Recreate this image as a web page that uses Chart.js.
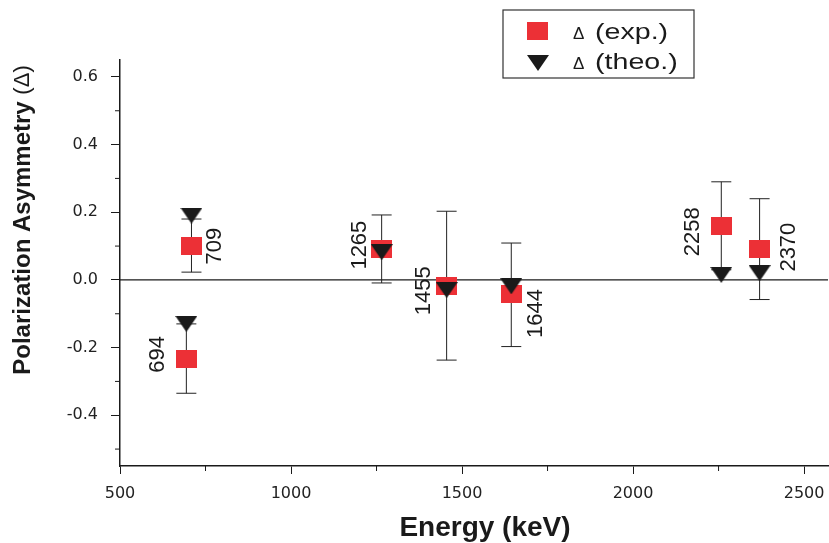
<!DOCTYPE html>
<html>
<head>
<meta charset="utf-8">
<script src="https://cdn.jsdelivr.net/npm/chart.js@4.4.1/dist/chart.umd.min.js"></script>
<style>
    body { margin: 0; background: #fff; }
</style>
</head>
<body>
<canvas id="graficoPolarizacao" width="829" height="543"></canvas>
<script>
// dados
const energias = [694, 709, 1265, 1455, 1644, 2258, 2370];
const rotulos = ['694', '709', '1265', '1455', '1644', '2258', '2370'];
const expValores = [-0.235, 0.10, 0.091, -0.017, -0.043, 0.16, 0.091];
const expSuperior = [-0.13, 0.18, 0.192, 0.203, 0.109, 0.29, 0.24];
const expInferior = [-0.335, 0.023, -0.009, -0.237, -0.197, 0.03, -0.058];
const teoValores = [-0.13, 0.19, 0.082, -0.03, -0.019, 0.015, 0.02];
const ticksX = [500, 1000, 1500, 2000, 2500];
const ticksXMenores = [750, 1250, 1750, 2250];
const ticksY = [-0.4, -0.2, 0.0, 0.2, 0.4, 0.6];
const ticksYMenores = [-0.5, -0.3, -0.1, 0.1, 0.3, 0.5];

// deslocamento (px) de cada rótulo em relação ao ponto
const posRotulos = [[-29, -5], [22, 0], [-23, -4], [-24, 5], [24, 19], [-29, 6], [28, -2]];

const vermelho = '#ec3036';
const preto = '#1a1a1a';

const pontosExp = energias.map((e, i) => ({ x: e, y: expValores[i] }));
const pontosTeo = energias.map((e, i) => ({ x: e, y: teoValores[i] }));

// marcadores (quadrado achatado e triângulo invertido)
const marcaQuadrado = document.createElement('canvas');
marcaQuadrado.width = 21;
marcaQuadrado.height = 18;
let c = marcaQuadrado.getContext('2d');
c.fillStyle = vermelho;
c.fillRect(0, 0, 21, 18);

const marcaTriangulo = document.createElement('canvas');
marcaTriangulo.width = 22;
marcaTriangulo.height = 16;
c = marcaTriangulo.getContext('2d');
c.fillStyle = preto;
c.beginPath();
c.moveTo(0, 0);
c.lineTo(22, 0);
c.lineTo(11, 16);
c.closePath();
c.fill();

function desenhaLegenda(ctx) {
    ctx.fillStyle = '#fff';
    ctx.strokeStyle = '#333';
    ctx.lineWidth = 1.2;
    ctx.fillRect(503, 10, 191, 68);
    ctx.strokeRect(503, 10, 191, 68);
    ctx.drawImage(marcaQuadrado, 527, 22);
    ctx.drawImage(marcaTriangulo, 527, 55);
    ctx.fillStyle = preto;
    ctx.textAlign = 'left';
    ctx.textBaseline = 'middle';
    const itens = ['(exp.)', '(theo.)'];
    const linhas = [33, 63];
    itens.forEach((txt, i) => {
        ctx.font = '17px "Liberation Sans", Arial, sans-serif';
        ctx.fillText('\u0394', 573, linhas[i] + 1);
        ctx.save();
        ctx.translate(595, linhas[i]);
        ctx.scale(1.3, 1);
        ctx.font = '22px "Liberation Sans", Arial, sans-serif';
        ctx.fillText(txt, 0, 0);
        ctx.restore();
    });
}

const extras = {
    id: 'extras',
    beforeDatasetsDraw(chart) {
        const ctx = chart.ctx;
        const sx = chart.scales.x;
        const sy = chart.scales.y;
        const area = chart.chartArea;
        ctx.save();
        // linha do zero
        ctx.strokeStyle = preto;
        ctx.lineWidth = 1.3;
        ctx.beginPath();
        ctx.moveTo(area.left, sy.getPixelForValue(0));
        ctx.lineTo(area.right, sy.getPixelForValue(0));
        ctx.stroke();
        // barras de erro
        ctx.lineWidth = 1;
        ctx.strokeStyle = '#222';
        for (let i = 0; i < energias.length; i++) {
            const px = sx.getPixelForValue(energias[i]);
            const yTop = sy.getPixelForValue(expSuperior[i]);
            const yBot = sy.getPixelForValue(expInferior[i]);
            ctx.beginPath();
            ctx.moveTo(px, yTop);
            ctx.lineTo(px, yBot);
            ctx.moveTo(px - 10, yTop);
            ctx.lineTo(px + 10, yTop);
            ctx.moveTo(px - 10, yBot);
            ctx.lineTo(px + 10, yBot);
            ctx.stroke();
        }
        // ticks menores
        ctx.strokeStyle = preto;
        ctx.beginPath();
        ticksYMenores.forEach(v => {
            const py = sy.getPixelForValue(v);
            ctx.moveTo(area.left - 5, py);
            ctx.lineTo(area.left, py);
        });
        ticksXMenores.forEach(v => {
            const px = sx.getPixelForValue(v);
            ctx.moveTo(px, area.bottom);
            ctx.lineTo(px, area.bottom + 5);
        });
        ctx.stroke();
        ctx.restore();
    },
    afterDraw(chart) {
        const ctx = chart.ctx;
        const sx = chart.scales.x;
        const sy = chart.scales.y;
        ctx.save();
        // rótulos das energias
        ctx.fillStyle = preto;
        ctx.font = '22px "Liberation Sans", Arial, sans-serif';
        ctx.textAlign = 'center';
        ctx.textBaseline = 'middle';
        for (let i = 0; i < energias.length; i++) {
            const px = sx.getPixelForValue(energias[i]) + posRotulos[i][0];
            const py = sy.getPixelForValue(expValores[i]) + posRotulos[i][1];
            ctx.save();
            ctx.translate(px, py);
            ctx.rotate(-Math.PI / 2);
            ctx.fillText(rotulos[i], 0, 1);
            ctx.restore();
        }
        // títulos dos eixos
        ctx.save();
        ctx.translate(23, 220);
        ctx.rotate(-Math.PI / 2);
        const t1 = 'Polarization Asymmetry ';
        const t2 = '(\u0394)';
        ctx.font = 'bold 24px "Liberation Sans", Arial, sans-serif';
        const w1 = ctx.measureText(t1).width;
        ctx.font = '22px "Liberation Sans", Arial, sans-serif';
        const w2 = ctx.measureText(t2).width;
        ctx.textAlign = 'left';
        ctx.fillText(t2, -(w1 + w2) / 2 + w1, 0);
        ctx.font = 'bold 24px "Liberation Sans", Arial, sans-serif';
        ctx.fillText(t1, -(w1 + w2) / 2, 0);
        ctx.restore();
        ctx.font = 'bold 28px "Liberation Sans", Arial, sans-serif';
        ctx.textAlign = 'center';
        ctx.fillText('Energy (keV)', 485, 528);
        desenhaLegenda(ctx);
        ctx.restore();
    }
};

const config = {
    type: 'scatter',
    data: {
        datasets: [{
            label: '\u0394 (exp.)',
            data: pontosExp,
            pointStyle: marcaQuadrado,
            backgroundColor: vermelho,
            order: 1
        }, {
            label: '\u0394 (theo.)',
            data: pontosTeo,
            pointStyle: marcaTriangulo,
            backgroundColor: preto,
            order: 0
        }]
    },
    options: {
        responsive: false,
        animation: false,
        events: [],
        layout: { autoPadding: false, padding: { left: 0, top: 60, right: 1, bottom: 0 } },
        plugins: {
            legend: { display: false },
            tooltip: { enabled: false }
        },
        scales: {
            x: {
                type: 'linear',
                min: 500,
                max: 2570,
                afterBuildTicks: scale => { scale.ticks = ticksX.map(v => ({ value: v })); },
                afterFit: scale => {
                    scale.height = 77;
                    scale.paddingLeft = 0;
                    scale.paddingRight = 0;
                },
                grid: { drawOnChartArea: false, tickLength: 8, color: preto, lineWidth: 1 },
                border: { color: preto, width: 1.5 },
                ticks: {
                    color: '#222',
                    font: { family: '"DejaVu Sans"', size: 16 },
                    padding: 10,
                    maxRotation: 0,
                    callback: v => String(v)
                }
            },
            y: {
                type: 'linear',
                min: -0.55,
                max: 0.65,
                afterBuildTicks: scale => { scale.ticks = ticksY.map(v => ({ value: v })); },
                afterFit: scale => {
                    scale.width = 120;
                    scale.paddingTop = 0;
                    scale.paddingBottom = 0;
                },
                grid: { drawOnChartArea: false, tickLength: 9, color: preto, lineWidth: 1 },
                border: { color: preto, width: 1.5 },
                ticks: {
                    color: '#222',
                    font: { family: '"DejaVu Sans"', size: 16 },
                    padding: 13,
                    callback: v => v.toFixed(1)
                }
            }
        }
    },
    plugins: [extras]
};

const grafico = new Chart(document.getElementById('graficoPolarizacao'), config);
</script>
</body>
</html>
